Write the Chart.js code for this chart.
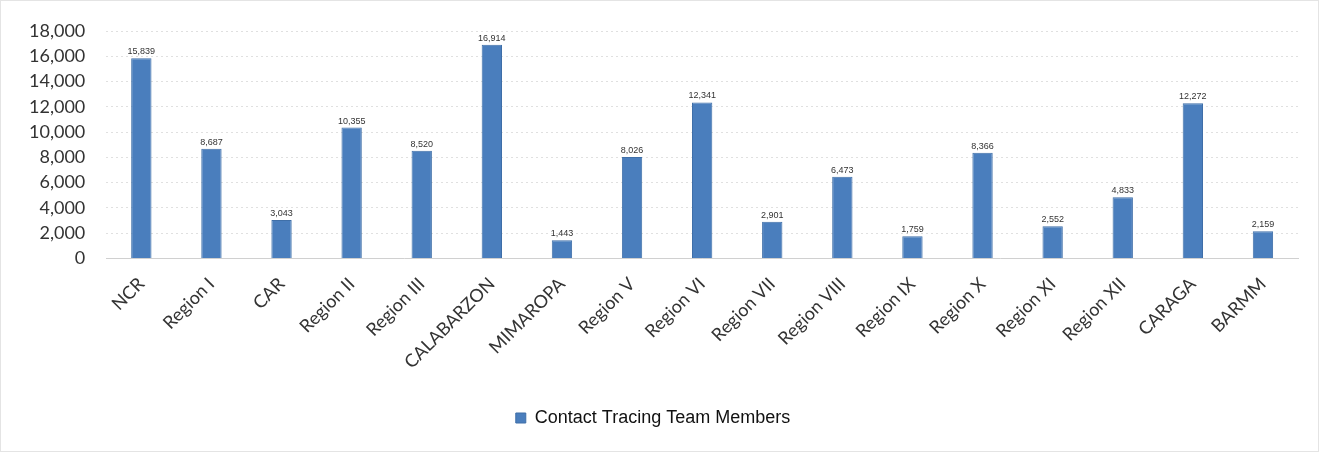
<!DOCTYPE html>
<html>
<head>
<meta charset="utf-8">
<script src="https://cdn.jsdelivr.net/npm/chart.js@4.4.0/dist/chart.umd.min.js"></script>
<style>
  html, body { margin: 0; padding: 0; background: #fff; }
  #wrap { position: relative; width: 1319px; height: 452px; box-sizing: border-box; border: 1px solid #e4e4e4; }
</style>
</head>
<body>
<div id="wrap"><canvas id="bar-chart"></canvas></div>
<script>
// Data
var regions = ['NCR', 'Region I', 'CAR', 'Region II', 'Region III', 'CALABARZON', 'MIMAROPA',
  'Region V', 'Region VI', 'Region VII', 'Region VIII', 'Region IX', 'Region X', 'Region XI',
  'Region XII', 'CARAGA', 'BARMM'];
var teamMembers = [15839, 8687, 3043, 10355, 8520, 16914, 1443, 8026, 12341, 2901, 6473,
  1759, 8366, 2552, 4833, 12272, 2159];
var yTicks = [0, 2000, 4000, 6000, 8000, 10000, 12000, 14000, 16000, 18000];

// small number above every bar
var valueLabels = {
  id: 'valueLabels',
  afterDatasetsDraw: function (chart) {
    var ctx = chart.ctx;
    var meta = chart.getDatasetMeta(0);
    ctx.save();
    ctx.font = '9px "Liberation Sans", sans-serif';
    ctx.fillStyle = '#333';
    ctx.textAlign = 'center';
    ctx.textBaseline = 'bottom';
    meta.data.forEach(function (bar, i) {
      ctx.fillText(teamMembers[i].toLocaleString('en-US'), bar.x, bar.y - 2);
    });
    ctx.restore();
  }
};

document.addEventListener('DOMContentLoaded', function () {
  var chartContainer = document.getElementById('bar-chart');

  new Chart(chartContainer, {
    type: 'bar',
    data: {
      labels: regions,
      datasets: [{
        label: 'Contact Tracing Team Members',
        data: teamMembers,
        backgroundColor: '#4a7ebd',
        borderColor: '#3f6fa8',
        borderWidth: 1,
        categoryPercentage: 1,
        barPercentage: 0.29
      }]
    },
    options: {
      responsive: true,
      maintainAspectRatio: false,
      animation: false,
      layout: { padding: { top: 30, right: 20, left: 7, bottom: 14 } },
      plugins: {
        legend: {
          position: 'bottom',
          labels: {
            boxWidth: 10,
            boxHeight: 10,
            padding: 16,
            color: '#111',
            font: { family: '"Liberation Sans", Arial, sans-serif', size: 18 }
          }
        },
        tooltip: { enabled: false }
      },
      scales: {
        x: {
          grid: { display: false },
          border: { color: '#d0d0d0' },
          afterFit: function (axis) { axis.height += 13; },
          ticks: {
            minRotation: 45,
            maxRotation: 45,
            padding: 7,
            color: '#333',
            font: { family: 'Lato, "Open Sans", sans-serif', size: 18 }
          }
        },
        y: {
          min: 0,
          max: 18000,
          afterBuildTicks: function (axis) {
            axis.ticks = yTicks.map(function (v) { return { value: v }; });
          },
          grid: { color: '#e0e0e0', drawTicks: false },
          border: { display: false, dash: [2, 3] },
          ticks: {
            autoSkip: false,
            padding: 21,
            color: '#333',
            font: { family: 'Lato, "Open Sans", sans-serif', size: 18, lineHeight: 1 },
            callback: function (v) { return v.toLocaleString('en-US'); }
          }
        }
      }
    },
    plugins: [valueLabels]
  });
});
</script>
</body>
</html>
